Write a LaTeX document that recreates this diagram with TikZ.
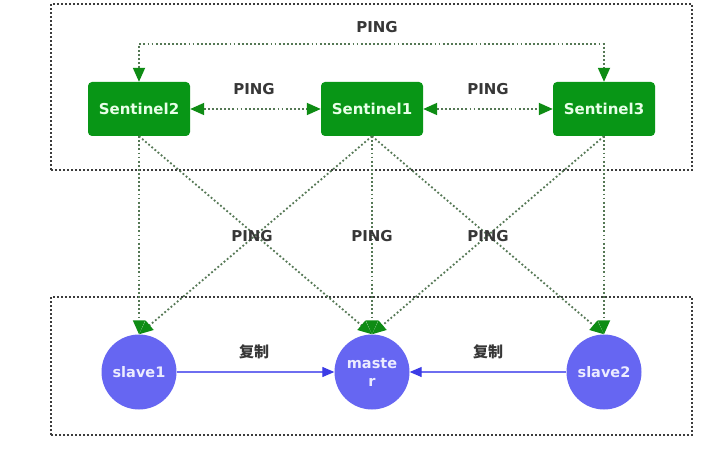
\documentclass[tikz,border=0pt]{standalone}
\usepackage{fontspec}
\setmainfont{DejaVu Sans}
\newfontfamily\cjkfont{Noto Sans CJK SC}
\usetikzlibrary{shapes, backgrounds, arrows.meta, positioning}
\begin{document}
\begin{tikzpicture}[x=1pt,y=1pt,
  sentinel/.style={fill=sentFill,text=sentText,rounded corners=4pt,minimum width=102pt,
    minimum height=54pt,inner sep=0pt,font=\fontsize{15}{17}\selectfont\bfseries},
  redis/.style={circle,fill=nodeFill,text=nodeText,minimum size=75pt,inner sep=0pt,
    align=center,font=\fontsize{14.5}{18}\selectfont\bfseries},
  label/.style={text=labelColor,inner sep=0pt,font=\fontsize{15}{17}\selectfont\bfseries},
  pinghead/.style={Triangle[length=14pt,width=12pt,fill=headColor,color=headColor]},
  pingline/.style={draw=pingColor,line width=1.8pt,dash pattern=on 1.8pt off 2.3pt,
    arrows={-Triangle[length=14pt,width=12pt,fill=headColor,color=headColor]}},
  pingboth/.style={pingline,
    arrows={Triangle[length=14pt,width=12pt,fill=headColor,color=headColor]-Triangle[length=14pt,width=12pt,fill=headColor,color=headColor]}},
  replline/.style={draw=replColor,line width=1.2pt,
    arrows={-Triangle[length=12pt,width=10pt,fill=replHead,color=replHead]}},
  group/.style={draw=boxColor,line width=1.6pt,dash pattern=on 1.6pt off 2.4pt}]
\definecolor[named]{sentFill}{RGB}{8,150,22}
\definecolor[named]{sentText}{RGB}{232,255,232}
\definecolor[named]{nodeFill}{RGB}{102,102,242}
\definecolor[named]{nodeText}{RGB}{236,236,255}
\definecolor[named]{labelColor}{RGB}{55,55,55}
\definecolor[named]{pingColor}{RGB}{85,120,85}
\definecolor[named]{headColor}{RGB}{14,140,20}
\definecolor[named]{replColor}{RGB}{110,110,240}
\definecolor[named]{replHead}{RGB}{60,60,230}
\definecolor[named]{boxColor}{RGB}{60,60,60}
\path[use as bounding box,fill=white] (0,0) rectangle (720,453);

% groups
\path[group] (51,283) rectangle (692,449);
\path[group] (51,18) rectangle (692,156);

% sentinels
\node[sentinel] (s2) at (139,344) {Sentinel2};
\node[sentinel] (s1) at (372,344) {Sentinel1};
\node[sentinel] (s3) at (604,344) {Sentinel3};

% redis nodes
\node[redis] (slave1) at (139,81) {slave1};
\node[redis] (master) at (372,81) {maste\\r};
\node[redis] (slave2) at (604,81) {slave2};

% ping between sentinels
\coordinate (topL) at (139,409);
\coordinate (topR) at (604,409);
\draw[pingboth] (s2.north) -- (topL) -- (topR) -- (s3.north);
\draw[pingboth] (s2.east) -- (s1.west);
\draw[pingboth] (s1.east) -- (s3.west);
\node[label] (pingTop) at (377,426) {PING};
\node[label] (pingL) at (254,364) {PING};
\node[label] (pingR) at (488,364) {PING};

% ping to redis nodes
\draw[pingline] (s2.south) -- (slave1.north);
\draw[pingline] (s2.south) -- (master.north);
\draw[pingline] (s1.south) -- (slave1.north);
\draw[pingline] (s1.south) -- (master.north);
\draw[pingline] (s1.south) -- (slave2.north);
\draw[pingline] (s3.south) -- (master.north);
\draw[pingline] (s3.south) -- (slave2.north);
\node[label] (pingA) at (252,217) {PING};
\node[label] (pingB) at (372,217) {PING};
\node[label] (pingC) at (488,217) {PING};

% replication
\draw[replline] (slave1.east) -- (master.west);
\draw[replline] (slave2.west) -- (master.east);
\node[label,font=\cjkfont\fontsize{15}{17}\selectfont\bfseries] (copyL) at (254,101) {复制};
\node[label,font=\cjkfont\fontsize{15}{17}\selectfont\bfseries] (copyR) at (488,101) {复制};
\end{tikzpicture}
\end{document}
